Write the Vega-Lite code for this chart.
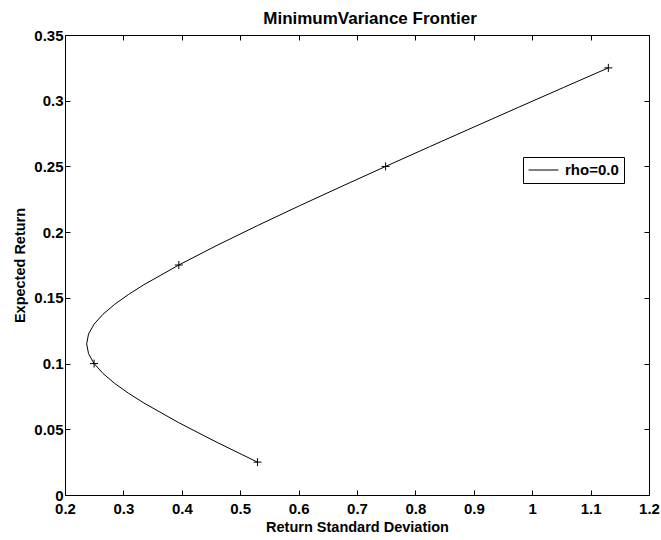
{
  "$schema": "https://vega.github.io/schema/vega-lite/v6.json",
  "width": 584,
  "height": 460,
  "autosize": {"type": "none"},
  "padding": {"left": 65, "top": 35, "right": 12, "bottom": 45},
  "background": "white",
  "title": {"text": "MinimumVariance Frontier", "fontSize": 17, "font": "Liberation Sans", "fontWeight": "bold", "color": "black", "offset": 0, "dx": 13},
  "config": {
    "view": {"stroke": "black", "strokeWidth": 1},
    "axis": {"grid": false, "domainColor": "black", "tickColor": "black", "labelColor": "black", "titleColor": "black", "labelFont": "Liberation Sans", "labelFontWeight": "bold", "labelFontSize": 15, "titleFont": "Liberation Sans", "titleFontWeight": "bold", "titleFontSize": 14.5, "tickSize": -5}
  },
  "datasets": {
    "curve": [
      {"sd": 0.5297, "ret": 0.025, "series": "rho=0.0"},
      {"sd": 0.4605, "ret": 0.04, "series": "rho=0.0"},
      {"sd": 0.3949, "ret": 0.055, "series": "rho=0.0"},
      {"sd": 0.3351, "ret": 0.07, "series": "rho=0.0"},
      {"sd": 0.3085, "ret": 0.0775, "series": "rho=0.0"},
      {"sd": 0.2848, "ret": 0.085, "series": "rho=0.0"},
      {"sd": 0.265, "ret": 0.0925, "series": "rho=0.0"},
      {"sd": 0.2498, "ret": 0.1, "series": "rho=0.0"},
      {"sd": 0.2403, "ret": 0.1075, "series": "rho=0.0"},
      {"sd": 0.2371, "ret": 0.115, "series": "rho=0.0"},
      {"sd": 0.2403, "ret": 0.1225, "series": "rho=0.0"},
      {"sd": 0.2498, "ret": 0.13, "series": "rho=0.0"},
      {"sd": 0.265, "ret": 0.1375, "series": "rho=0.0"},
      {"sd": 0.2848, "ret": 0.145, "series": "rho=0.0"},
      {"sd": 0.3085, "ret": 0.1525, "series": "rho=0.0"},
      {"sd": 0.3351, "ret": 0.16, "series": "rho=0.0"},
      {"sd": 0.3949, "ret": 0.175, "series": "rho=0.0"},
      {"sd": 0.4605, "ret": 0.19, "series": "rho=0.0"},
      {"sd": 0.5297, "ret": 0.205, "series": "rho=0.0"},
      {"sd": 0.6013, "ret": 0.22, "series": "rho=0.0"},
      {"sd": 0.6746, "ret": 0.235, "series": "rho=0.0"},
      {"sd": 0.749, "ret": 0.25, "series": "rho=0.0"},
      {"sd": 0.8243, "ret": 0.265, "series": "rho=0.0"},
      {"sd": 0.9002, "ret": 0.28, "series": "rho=0.0"},
      {"sd": 0.9766, "ret": 0.295, "series": "rho=0.0"},
      {"sd": 1.0533, "ret": 0.31, "series": "rho=0.0"},
      {"sd": 1.1304, "ret": 0.325, "series": "rho=0.0"}
    ],
    "marks": [
      {"sd": 0.5297, "ret": 0.025},
      {"sd": 0.2498, "ret": 0.1},
      {"sd": 0.3949, "ret": 0.175},
      {"sd": 0.749, "ret": 0.25},
      {"sd": 1.1304, "ret": 0.325}
    ]
  },
  "resolve": {"axis": {"x": "independent", "y": "independent"}},
  "layer": [
    {
      "data": {"name": "curve"},
      "mark": {"type": "line", "strokeWidth": 1, "interpolate": "linear"},
      "encoding": {
        "x": {"field": "sd", "type": "quantitative", "scale": {"domain": [0.2, 1.2], "nice": false, "zero": false},
              "axis": {"orient": "bottom", "values": [0.2,0.3,0.4,0.5,0.6,0.7,0.8,0.9,1,1.1,1.2], "format": "~g", "labelPadding": 11, "title": "Return Standard Deviation", "titleY": 32, "titleBaseline": "middle", "labelFlush": false}},
        "y": {"field": "ret", "type": "quantitative", "scale": {"domain": [0, 0.35], "nice": false, "zero": false},
              "axis": {"orient": "left", "values": [0,0.05,0.1,0.15,0.2,0.25,0.3,0.35], "format": "~g", "labelPadding": 7, "title": "Expected Return", "titleX": -45, "titleBaseline": "middle", "labelFlush": false}},
        "order": {"field": "ret", "type": "quantitative"},
        "color": {"field": "series", "type": "nominal", "scale": {"range": ["black"]},
                  "legend": {"title": null, "orient": "none", "legendX": 458, "legendY": 122, "symbolType": "stroke", "symbolSize": 900, "symbolStrokeWidth": 1, "symbolStrokeColor": "black", "clipHeight": 16, "strokeColor": "black", "fillColor": "white", "padding": 5, "labelFont": "Liberation Sans", "labelFontWeight": "bold", "labelFontSize": 15, "labelColor": "black", "labelOffset": 6}}
      }
    },
    {
      "data": {"name": "marks"},
      "mark": {"type": "point", "shape": "M-1,0H1M0,-1V1", "filled": false, "stroke": "black", "strokeWidth": 1, "size": 64, "opacity": 1},
      "encoding": {
        "x": {"field": "sd", "type": "quantitative", "axis": {"orient": "top", "values": [0.2,0.3,0.4,0.5,0.6,0.7,0.8,0.9,1,1.1,1.2], "labels": false, "title": null, "domain": false}},
        "y": {"field": "ret", "type": "quantitative", "axis": {"orient": "right", "values": [0,0.05,0.1,0.15,0.2,0.25,0.3,0.35], "labels": false, "title": null, "domain": false}}
      }
    }
  ]
}
